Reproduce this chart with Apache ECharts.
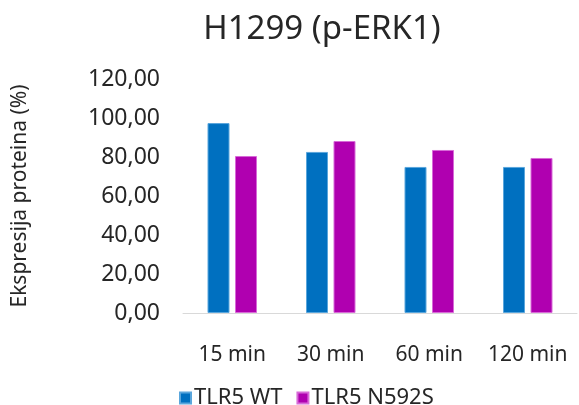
<!DOCTYPE html>
<html>
<head>
<meta charset="utf-8">
<script src="https://cdn.jsdelivr.net/npm/echarts@6/dist/echarts.min.js"></script>
<style>
  html, body { margin: 0; padding: 0; background: #fff; }
  #chart { width: 579px; height: 405px; }
</style>
</head>
<body>
<div id="chart"></div>
<script>
const categories = ['15 min', '30 min', '60 min', '120 min'];
const wtValues = [97.4, 82.6, 74.9, 74.9];
const mutValues = [80.5, 88.2, 83.6, 79.5];
const seriesNames = ['TLR5 WT', 'TLR5 N592S'];

const font = 'Noto Sans';
const textColor = '#262626';

const chart = echarts.init(document.getElementById('chart'));

const option = {
    animation: false,
    title: {
        text: 'H1299 (p-ERK1)',
        left: 317,
        top: 8,
        textAlign: 'center',
        textStyle: { fontFamily: font, fontSize: 33, fontWeight: 'normal', color: textColor }
    },
    legend: {
        data: seriesNames,
        left: 174,
        top: 382,
        icon: 'rect',
        itemWidth: 11,
        itemHeight: 11,
        itemGap: 14,
        textStyle: { fontFamily: font, fontSize: 22, color: textColor, padding: [0, 0, 0, -2] }
    },
    grid: { left: 183, right: 2, top: 79, bottom: 92 },
    xAxis: {
        type: 'category',
        data: categories,
        axisLine: { lineStyle: { color: '#d9d9d9', width: 1 } },
        axisTick: { show: false },
        axisLabel: { interval: 0, fontFamily: font, fontSize: 21, color: textColor, margin: 32 }
    },
    yAxis: {
        type: 'value',
        min: 0,
        max: 120,
        interval: 20,
        name: 'Ekspresija proteina (%)',
        nameLocation: 'middle',
        nameGap: 152,
        nameTextStyle: { fontFamily: font, fontSize: 21, color: textColor },
        axisLine: { show: false },
        axisTick: { show: false },
        splitLine: { show: false },
        axisLabel: {
            fontFamily: font,
            fontSize: 23,
            color: textColor,
            margin: 23,
            formatter: v => v.toFixed(2).replace('.', ',')
        }
    },
    series: [
        {
            name: seriesNames[0],
            type: 'bar',
            data: wtValues,
            barWidth: 22,
            barGap: '25%',
            itemStyle: { color: '#0070c0', borderColor: '#5aa6dc', borderWidth: 1 }
        },
        {
            name: seriesNames[1],
            type: 'bar',
            data: mutValues,
            barWidth: 22,
            itemStyle: { color: '#b000b0', borderColor: '#d86ad8', borderWidth: 1 }
        }
    ]
};

chart.setOption(option);
</script>
</body>
</html>
